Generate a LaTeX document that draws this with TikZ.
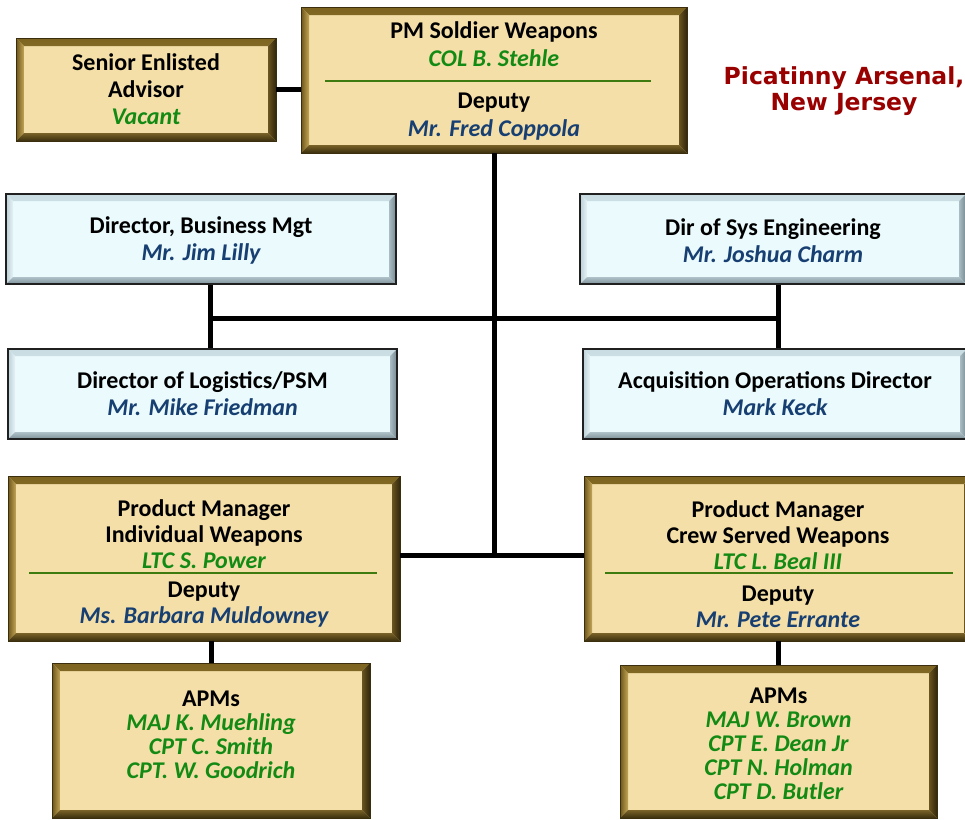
\documentclass[tikz,border=0pt]{standalone}
\usepackage{fontspec}
\setmainfont{Carlito}
\newfontfamily\titlefont{DejaVu Sans}
\usetikzlibrary{calc}
\definecolor{goldface}{HTML}{F4DFA9}
\definecolor{goldline}{HTML}{3A2E0E}
\definecolor{gtopo}{HTML}{7C6420}
\definecolor{gtopi}{HTML}{D6BD72}
\definecolor{glefto}{HTML}{6E5518}
\definecolor{glefti}{HTML}{C2A758}
\definecolor{gboti}{HTML}{7A6228}
\definecolor{gboto}{HTML}{3A2E0E}
\definecolor{grighti}{HTML}{6A5420}
\definecolor{grighto}{HTML}{30260A}
\definecolor{blueface}{HTML}{EAFAFD}
\definecolor{blueline}{HTML}{202020}
\definecolor{btopo}{HTML}{C8DCE2}
\definecolor{btopi}{HTML}{F2FBFD}
\definecolor{blefto}{HTML}{BCD0D7}
\definecolor{blefti}{HTML}{E6F3F6}
\definecolor{bboti}{HTML}{B0C2C9}
\definecolor{bboto}{HTML}{7E9098}
\definecolor{brighti}{HTML}{AABCC3}
\definecolor{brighto}{HTML}{76888F}
\definecolor{namegreen}{HTML}{138A13}
\definecolor{nameblue}{HTML}{173F72}
\definecolor{divgreen}{HTML}{3D7A0F}
\definecolor{titlered}{HTML}{990000}
\newcommand\nmg[1]{{\itshape\color{namegreen}#1}}
\newcommand\nmb[1]{{\itshape\color{nameblue}#1}}
\newcommand\bev[9]{%
  \shade[top color=#2,bottom color=#3]
    (path picture bounding box.north west) -- (path picture bounding box.north east)
    -- ([xshift=-#1,yshift=-#1]path picture bounding box.north east)
    -- ([xshift=#1,yshift=-#1]path picture bounding box.north west) -- cycle;
  \shade[left color=#4,right color=#5]
    (path picture bounding box.north west) -- ([xshift=#1,yshift=-#1]path picture bounding box.north west)
    -- ([xshift=#1,yshift=#1]path picture bounding box.south west)
    -- (path picture bounding box.south west) -- cycle;
  \shade[top color=#6,bottom color=#7]
    (path picture bounding box.south west) -- ([xshift=#1,yshift=#1]path picture bounding box.south west)
    -- ([xshift=-#1,yshift=#1]path picture bounding box.south east)
    -- (path picture bounding box.south east) -- cycle;
  \shade[left color=#8,right color=#9]
    (path picture bounding box.north east) -- ([xshift=-#1,yshift=-#1]path picture bounding box.north east)
    -- ([xshift=-#1,yshift=#1]path picture bounding box.south east)
    -- (path picture bounding box.south east) -- cycle;
}
\tikzset{
  x=1pt, y=-1pt,
  boxbase/.style={rectangle, inner sep=0pt, align=center,
    font=\bfseries\fontsize{24}{27}\selectfont},
  goldbox/.style={boxbase, fill=goldface, draw=goldline, line width=0.8pt,
    path picture={\bev{8pt}{gtopo}{gtopi}{glefto}{glefti}{gboti}{gboto}{grighti}{grighto}}},
  bluebox/.style={boxbase, fill=blueface, draw=blueline, line width=2pt,
    path picture={\bev{7pt}{btopo}{btopi}{blefto}{blefti}{bboti}{bboto}{brighti}{brighto}}},
  link/.style={draw=black, line width=5pt},
  divider/.style={draw=divgreen, line width=1.6pt},
}
\begin{document}
\begin{tikzpicture}
\clip (0,0) rectangle (965,819);
\fill[white] (0,0) rectangle (965,819);

\coordinate (jl) at (210,318);
\coordinate (jr) at (778,318);
\coordinate (trunkend) at (494,555);

\node[goldbox, minimum width=260, minimum height=103] (sea) at (146,89.5)
  {Senior Enlisted\\Advisor\\\nmg{Vacant}};
\node[goldbox, minimum width=386, minimum height=146,
      font=\bfseries\fontsize{24}{28}\selectfont] (pm) at (494,80)
  {\rule{0pt}{19pt}PM Soldier Weapons\\\nmg{COL B. Stehle}\\[14pt]Deputy\\\nmb{Mr. Fred Coppola}};
\node[bluebox, minimum width=390, minimum height=90] (dbm) at (201,239)
  {\rule{0pt}{19pt}Director, Business Mgt\\\nmb{Mr. Jim Lilly}};
\node[bluebox, minimum width=386, minimum height=90] (dse) at (773,239)
  {\rule{0pt}{20pt}Dir of Sys Engineering\\\nmb{Mr. Joshua Charm}};
\node[bluebox, minimum width=389, minimum height=90] (dlog) at (202.5,394)
  {Director of Logistics/PSM\\\nmb{Mr. Mike Friedman}};
\node[bluebox, minimum width=384, minimum height=90] (acq) at (775,394)
  {Acquisition Operations Director\\\nmb{Mark Keck}};
\node[goldbox, minimum width=392, minimum height=165,
      font=\bfseries\fontsize{24}{26}\selectfont] (pmi) at (204,558.5)
  {\rule{0pt}{27pt}Product Manager\\Individual Weapons\\\nmg{LTC S. Power}\\[3pt]Deputy\\\nmb{Ms. Barbara Muldowney}};
\node[goldbox, minimum width=388, minimum height=165,
      font=\bfseries\fontsize{24}{26}\selectfont] (pmc) at (778,558.5)
  {\rule{0pt}{29pt}Product Manager\\Crew Served Weapons\\\nmg{LTC L. Beal III}\\[6pt]Deputy\\\nmb{Mr. Pete Errante}};
\node[goldbox, minimum width=318, minimum height=155,
      font=\bfseries\fontsize{24}{24}\selectfont] (apm1) at (211,740.5)
  {APMs\\\nmg{MAJ K. Muehling}\\\nmg{CPT C. Smith}\\\nmg{CPT. W. Goodrich}\rule[-12pt]{0pt}{1pt}};
\node[goldbox, minimum width=317, minimum height=153,
      font=\bfseries\fontsize{24}{24}\selectfont] (apm2) at (778.5,741.5)
  {\rule{0pt}{21pt}APMs\\\nmg{MAJ W. Brown}\\\nmg{CPT E. Dean Jr}\\\nmg{CPT N. Holman}\\\nmg{CPT D. Butler}};

\node[font=\titlefont\bfseries\fontsize{23.5}{26}\selectfont, text=titlered, align=center]
  (title) at (844,91) {Picatinny Arsenal,\\New Jersey};

% dividers
\draw[divider] (325,81) -- (651,81);
\draw[divider] (29,573) -- (377,573);
\draw[divider] (605,573) -- (953,573);

% connectors
\draw[link] (sea.east) -- (sea.east -| pm.west);
\draw[link] (pm.south) -- (trunkend);
\draw[link] (jl) -- (jr);
\draw[link] (jl |- dbm.south) -- (jl |- dlog.north);
\draw[link] (jr |- dse.south) -- (jr |- acq.north);
\draw[link] (trunkend -| pmi.east) -- (trunkend -| pmc.west);
\draw[link] (apm1.north) -- (apm1.north |- pmi.south);
\draw[link] (jr |- pmc.south) -- (jr |- apm2.north);
\end{tikzpicture}
\end{document}
